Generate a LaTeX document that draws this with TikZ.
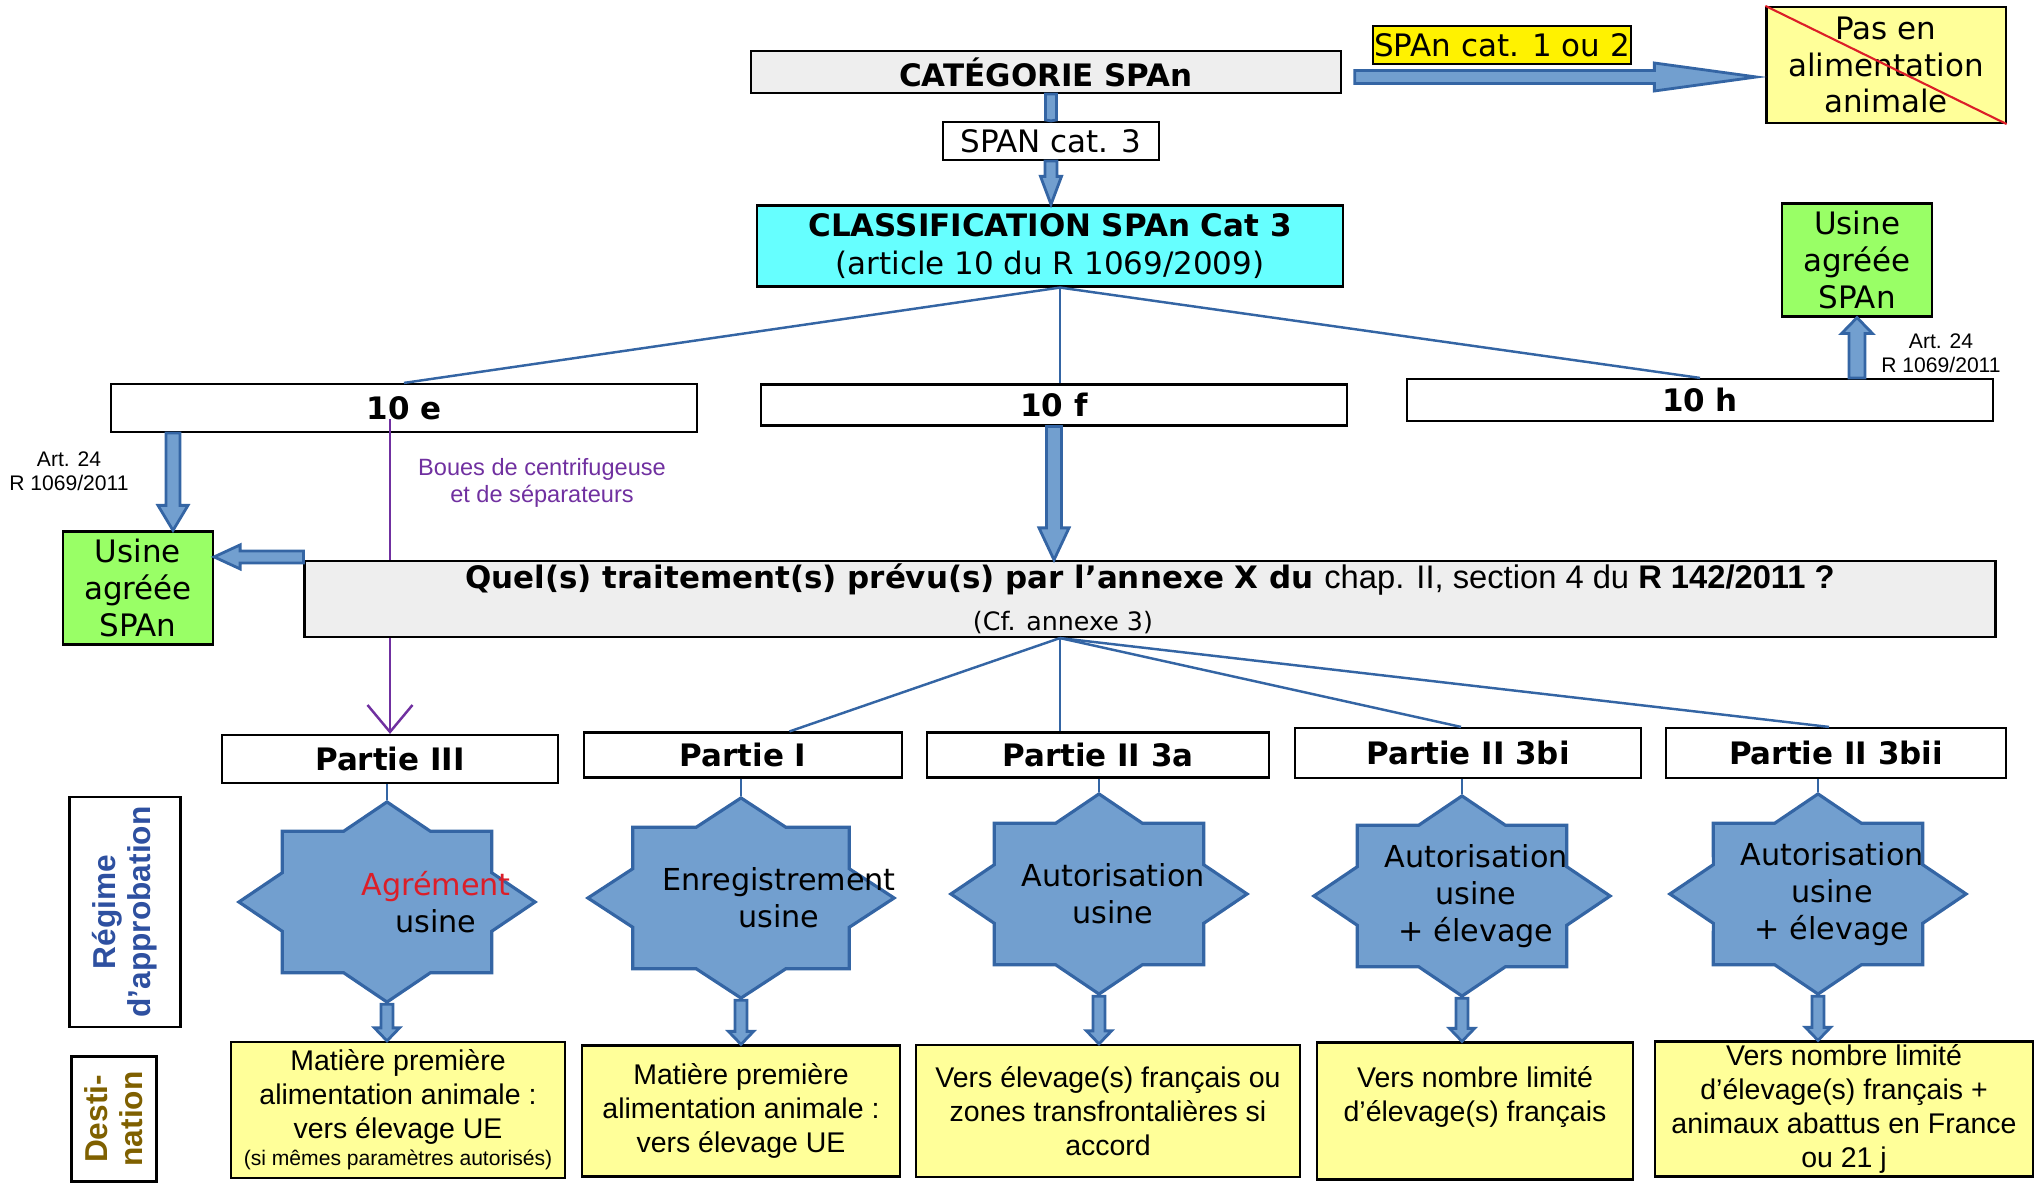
\documentclass[tikz,border=0pt]{standalone}
\usepackage{fontspec}
\setmainfont{Liberation Sans}
\newfontfamily\dejavu{DejaVu Sans}
\usetikzlibrary{shapes.geometric,calc,arrows.meta}

\definecolor{starfill}{RGB}{114,159,207}
\definecolor{starline}{RGB}{52,101,164}
\definecolor{boxgray}{RGB}{238,238,238}
\definecolor{cyanbox}{RGB}{102,255,255}
\definecolor{greenbox}{RGB}{153,255,102}
\definecolor{paleyellow}{RGB}{255,255,153}
\definecolor{purpleline}{RGB}{112,48,160}
\definecolor{regblue}{RGB}{46,80,160}
\definecolor{destbrown}{RGB}{127,96,0}
\definecolor{redtext}{RGB}{220,30,40}

% fat blue arrow: from, to, half shaft, half head, head length
\newcommand\fatarrow[5]{%
  \coordinate (fa-base) at ($(#2)!#5!(#1)$);
  \filldraw[fatarrow] ($(#1)!#3!90:(#2)$) -- ($(fa-base)!#3!-90:(#1)$) -- ($(fa-base)!#4!-90:(#1)$)
    -- (#2) -- ($(fa-base)!#4!90:(#1)$) -- ($(fa-base)!#3!90:(#1)$) -- ($(#1)!#3!-90:(#2)$) -- cycle;}

\tikzset{
  box/.style={draw, line width=0.6pt, inner sep=0pt, align=center, font=\dejavu\fontsize{8.8}{10.4}\selectfont},
  titlebox/.style={box, font=\dejavu\bfseries\fontsize{8.8}{10.8}\selectfont},
  destbox/.style={box, fill=paleyellow, font=\fontsize{8.1}{9.7}\selectfont},
  greenusine/.style={box, fill=greenbox, minimum width=1.50cm, minimum height=1.13cm},
  octastar/.style={star, star points=8, star point ratio=1.307, minimum size=2cm, inner sep=0pt,
    fill=starfill, draw=starline, line width=0.9pt, transform shape},
  startext/.style={align=center, inner sep=0pt, font=\dejavu\fontsize{8.6}{10.5}\selectfont},
  fatarrow/.style={fill=starfill, draw=starline, line width=0.8pt},
  link/.style={draw=starline, line width=0.7pt},
  note/.style={align=center, inner sep=0pt, font=\fontsize{6}{6.8}\selectfont},
  sidelabel/.style={draw, line width=0.6pt, rotate=90, align=center, inner sep=0pt,
    font=\bfseries\fontsize{9}{10}\selectfont}
}

\begin{document}
\begin{tikzpicture}[x=0.01cm, y=-0.01cm]
\useasboundingbox (0,0) rectangle (2037,1183);

% top part
\node[titlebox, fill=boxgray, minimum width=5.89cm, minimum height=0.42cm] (cat) at (1046,72) {CATÉGORIE SPAn};
\node[box, minimum width=2.16cm, minimum height=0.38cm] (span3) at (1051,141) {SPAN cat. 3};
\node[titlebox, fill=cyanbox, minimum width=5.86cm, minimum height=0.81cm] (cls) at (1050,246)
  {CLASSIFICATION SPAn Cat 3\\\mdseries(article 10 du R 1069/2009)};
\node[box, fill=yellow, minimum width=2.58cm, minimum height=0.38cm] (cat12) at (1502,45) {SPAn cat. 1 ou 2};
\node[box, fill=paleyellow, minimum width=2.39cm, minimum height=1.16cm] (pas) at (1886,65) {Pas en\\alimentation\\animale};
\draw[redtext, line width=0.6pt] (pas.north west) -- (pas.south east);

\node[greenusine] (usr) at (1857,260) {Usine\\agréée\\SPAn};
\node[greenusine] (usl) at (138,588) {Usine\\agréée\\SPAn};

\node[titlebox, minimum width=5.86cm, minimum height=0.48cm] (e10) at (404,408) {10 e};
\node[titlebox, minimum width=5.86cm, minimum height=0.41cm] (f10) at (1054,405) {10 f};
\node[titlebox, minimum width=5.85cm, minimum height=0.42cm] (h10) at (1700,400) {10 h};

\node[note] (artl) at (69,471) {Art. 24\\R 1069/2011};
\node[note] (artr) at (1941,353) {Art. 24\\R 1069/2011};
\node[note, text=purpleline, font=\fontsize{6.7}{7.7}\selectfont] (boues) at (542,483) {Boues de centrifugeuse\\et de séparateurs};

% parties
\node[titlebox, minimum width=3.35cm, minimum height=0.48cm] (p3) at (390,759) {Partie III};
\node[titlebox, minimum width=3.17cm, minimum height=0.45cm] (p1) at (743,755) {Partie I};
\node[titlebox, minimum width=3.42cm, minimum height=0.45cm] (p2a) at (1098,755) {Partie II 3a};
\node[titlebox, minimum width=3.46cm, minimum height=0.50cm] (p2bi) at (1468,753) {Partie II 3bi};
\node[titlebox, minimum width=3.39cm, minimum height=0.50cm] (p2bii) at (1836,753) {Partie II 3bii};

\draw[purpleline, line width=0.7pt, -{Straight Barb[length=0.27cm, width=0.45cm]}]
  ($(p3.north |- e10.south)+(0,-14)$) -- (p3.north);

\node[titlebox, fill=boxgray, minimum width=16.90cm, minimum height=0.76cm] (quel) at (1150,599)
  {Quel(s) traitement(s) prévu(s) par l’annexe X du {\normalfont\fontsize{9.3}{10}\selectfont chap. II, section 4 du \bfseries R 142/2011 ?}\\[1pt]
   {\mdseries\fontsize{7.2}{8}\selectfont (Cf. annexe 3)}\hspace*{1.74cm}};

% stars
\node[octastar, xscale=1.48] (s1) at (387,902) {};
\node[octastar, xscale=1.53] (s2) at (741,898) {};
\node[octastar, xscale=1.48] (s3) at (1099,894) {};
\node[octastar, xscale=1.48] (s4) at (1462,896) {};
\node[octastar, xscale=1.48] (s5) at (1818,894) {};
\node[startext] (t1) at ([xshift=0.49cm]s1.center) {\textcolor{redtext}{Agrément}\\usine};
\node[startext] (t2) at ([xshift=0.38cm]s2.center) {Enregistrement\\usine};
\node[startext] (t3) at ([xshift=0.14cm]s3.center) {Autorisation\\usine};
\node[startext] (t4) at ([xshift=0.14cm]s4.center) {Autorisation\\usine\\+ élevage};
\node[startext] (t5) at ([xshift=0.14cm]s5.center) {Autorisation\\usine\\+ élevage};

% destinations
\node[destbox, minimum width=3.34cm, minimum height=1.36cm] (d1) at (398,1110)
  {Matière première\\alimentation animale :\\vers élevage UE\\[-2pt]{\fontsize{6}{7}\selectfont(si mêmes paramètres autorisés)}};
\node[destbox, minimum width=3.17cm, minimum height=1.31cm] (d2) at (741,1111)
  {Matière première\\alimentation animale :\\vers élevage UE};
\node[destbox, minimum width=3.83cm, minimum height=1.32cm] (d3) at (1108,1111)
  {Vers élevage(s) français ou\\zones transfrontalières si\\accord};
\node[destbox, minimum width=3.15cm, minimum height=1.37cm] (d4) at (1475,1111)
  {Vers nombre limité\\d’élevage(s) français\\\mbox{}};
\node[destbox, minimum width=3.77cm, minimum height=1.35cm] (d5) at (1844,1109)
  {Vers nombre limité\\d’élevage(s) français +\\animaux abattus en France\\ou 21 j};

\node[sidelabel, text=regblue, minimum width=2.29cm, minimum height=1.11cm] (regime) at (125,912) {Régime\\d’approbation};
\node[sidelabel, text=destbrown, minimum width=1.25cm, minimum height=0.85cm] (dest) at (114,1119) {Desti-\\nation};

% connectors
\coordinate (b1) at (span3.north |- cat.south);
\fatarrow{b1}{span3.north}{0.055cm}{0.055cm}{0.01cm}
\coordinate (b2) at (span3.south |- cls.north);
\fatarrow{span3.south}{b2}{0.06cm}{0.105cm}{0.28cm}
\coordinate (c1) at ($(cat.east)+(13,5)$);
\coordinate (c2) at ($(c1 -| pas.west)+(-9,0)$);
\fatarrow{c1}{c2}{0.065cm}{0.14cm}{1.02cm}

\coordinate (clsfoot) at ([xshift=0.1cm]cls.south);
\draw[link] (clsfoot) -- (e10.north);
\draw[link] (clsfoot) -- (clsfoot |- f10.north);
\draw[link] (clsfoot) -- (h10.north);

\coordinate (h1) at (usr.south |- h10.north);
\fatarrow{h1}{usr.south}{0.08cm}{0.155cm}{0.16cm}
\coordinate (e1) at ($(usl.north |- e10.south)+(35,0)$);
\coordinate (e2) at ($(usl.north)+(35,0)$);
\fatarrow{e1}{e2}{0.07cm}{0.15cm}{0.25cm}
\coordinate (f1) at (f10.south |- quel.north);
\fatarrow{f10.south}{f1}{0.075cm}{0.15cm}{0.32cm}
\coordinate (q1) at ($(quel.north west)+(0,-3)$);
\coordinate (q2) at (q1 -| usl.east);
\fatarrow{q1}{q2}{0.06cm}{0.12cm}{0.26cm}

\coordinate (qfoot) at ([xshift=-0.9cm]quel.south);
\draw[link] (qfoot) -- ([xshift=0.465cm]p1.north);
\draw[link] (qfoot) -- (qfoot |- p2a.north);
\draw[link] (qfoot) -- ([xshift=-0.07cm]p2bi.north);
\draw[link] (qfoot) -- ([xshift=-0.07cm]p2bii.north);

\foreach \p/\s in {p3/s1, p1/s2, p2a/s3, p2bi/s4, p2bii/s5}
  \draw[link] (\s.north |- \p.south) -- (\s.north);
\foreach \s/\d in {s1/d1, s2/d2, s3/d3, s4/d4, s5/d5} {
  \coordinate (x) at (\s.south |- \d.north);
  \fatarrow{\s.south}{x}{0.06cm}{0.125cm}{0.13cm}
}
\end{tikzpicture}
\end{document}
